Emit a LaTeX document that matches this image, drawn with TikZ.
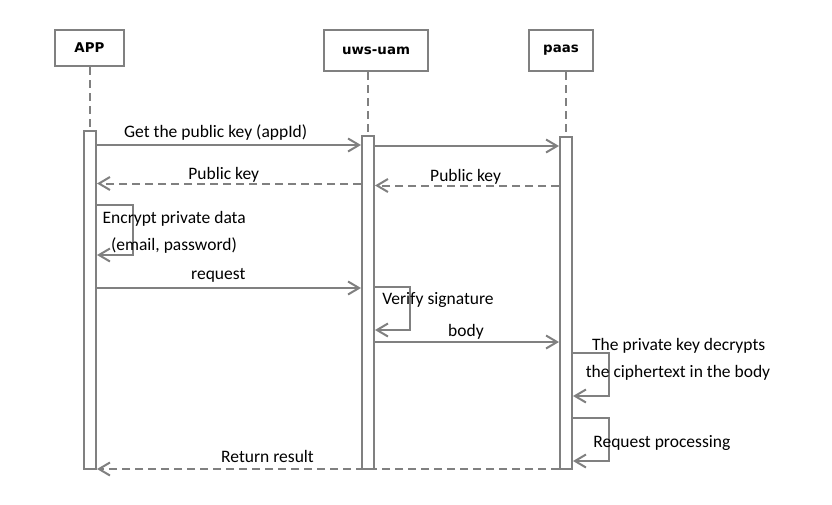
\documentclass[tikz,border=0pt]{standalone}
\usepackage{fontspec}
\setmainfont{Carlito}
\newfontfamily\hdfont{DejaVu Sans}
\usetikzlibrary{arrows.meta}
\definecolor{lc}{HTML}{808080}
\tikzset{
  actor/.style={draw=lc, line width=2pt, fill=white, inner sep=0pt, font=\hdfont\bfseries\fontsize{13.4}{16}\selectfont},
  bar/.style={draw=lc, line width=2pt, fill=white, minimum width=12pt, inner sep=0pt},
  life/.style={draw=lc, line width=2pt, dash pattern=on 8pt off 5pt},
  msg/.style={draw=lc, line width=2pt, -{Straight Barb[length=11pt,width=13pt]}},
  ret/.style={msg, dash pattern=on 8pt off 5pt},
  lbl/.style={anchor=base, inner sep=0pt, font=\fontsize{17.5}{21}\selectfont}
}
\begin{document}
\begin{tikzpicture}[x=1pt,y=-1pt]
\useasboundingbox (0,0) rectangle (832,504);
% actors
\node[actor, minimum width=69pt, minimum height=36pt] (app) at (89.5,48) {APP};
\node[actor, minimum width=104pt, minimum height=41pt] (uws) at (376,50.5) {uws-uam};
\node[actor, minimum width=64pt, minimum height=41pt] (paas) at (561,50.5) {paas};
% activation bars
\node[bar, minimum height=338pt] (appbar) at (90,300) {};
\node[bar, minimum height=333pt] (uwsbar) at (368,302.5) {};
\node[bar, minimum height=332pt] (paasbar) at (566,303) {};
% lifelines
\draw[life] (app.south -| appbar.north) -- (appbar.north);
\draw[life] (uws.south -| uwsbar.north) -- (uwsbar.north);
\draw[life] (paas.south -| paasbar.north) -- (paasbar.north);
% message rows
\coordinate (r1) at (0,145);
\coordinate (r2) at (0,146);
\coordinate (r3) at (0,185.5);
\coordinate (r4) at (0,183.5);
\coordinate (l1t) at (133,205);
\coordinate (l1b) at (133,255);
\coordinate (r5) at (0,288);
\coordinate (l2t) at (410,287);
\coordinate (l2b) at (410,330);
\coordinate (r6) at (0,342);
\coordinate (l3t) at (609,353);
\coordinate (l3b) at (609,396);
\coordinate (l4t) at (609,418);
\coordinate (l4b) at (609,461);
\coordinate (r7) at (0,469);
% messages
\draw[msg] (appbar.east |- r1) -- (uwsbar.west |- r1);
\draw[msg] (uwsbar.east |- r2) -- (paasbar.west |- r2);
\draw[ret] (paasbar.west |- r3) -- (uwsbar.east |- r3);
\draw[ret] (uwsbar.west |- r4) -- (appbar.east |- r4);
\draw[msg] (appbar.east |- l1t) -- (l1t) -- (l1b) -- (appbar.east |- l1b);
\draw[msg] (appbar.east |- r5) -- (uwsbar.west |- r5);
\draw[msg] (uwsbar.east |- l2t) -- (l2t) -- (l2b) -- (uwsbar.east |- l2b);
\draw[msg] (uwsbar.east |- r6) -- (paasbar.west |- r6);
\draw[msg] (paasbar.east |- l3t) -- (l3t) -- (l3b) -- (paasbar.east |- l3b);
\draw[msg] (paasbar.east |- l4t) -- (l4t) -- (l4b) -- (paasbar.east |- l4b);
\draw[ret] (paasbar.west |- r7) -- (appbar.east |- r7);
% labels
\node[lbl] (t1) at (215.7,137.3) {Get the public key (appId)};
\node[lbl] (t2) at (223.7,179.3) {Public key};
\node[lbl] (t3) at (465.6,181.3) {Public key};
\node[lbl] (t4) at (174.2,223.3) {Encrypt private data};
\node[lbl] (t5) at (174,250) {(email, password)};
\node[lbl] (t6) at (218.3,279.3) {request};
\node[lbl] (t7) at (438,304.3) {Verify signature};
\node[lbl] (t8) at (466,336) {body};
\node[lbl] (t9) at (678.7,350) {The private key decrypts};
\node[lbl] (t10) at (678,377.3) {the ciphertext in the body};
\node[lbl] (t11) at (661.8,447.3) {Request processing};
\node[lbl] (t12) at (267.5,462.3) {Return result};
\end{tikzpicture}
\end{document}
